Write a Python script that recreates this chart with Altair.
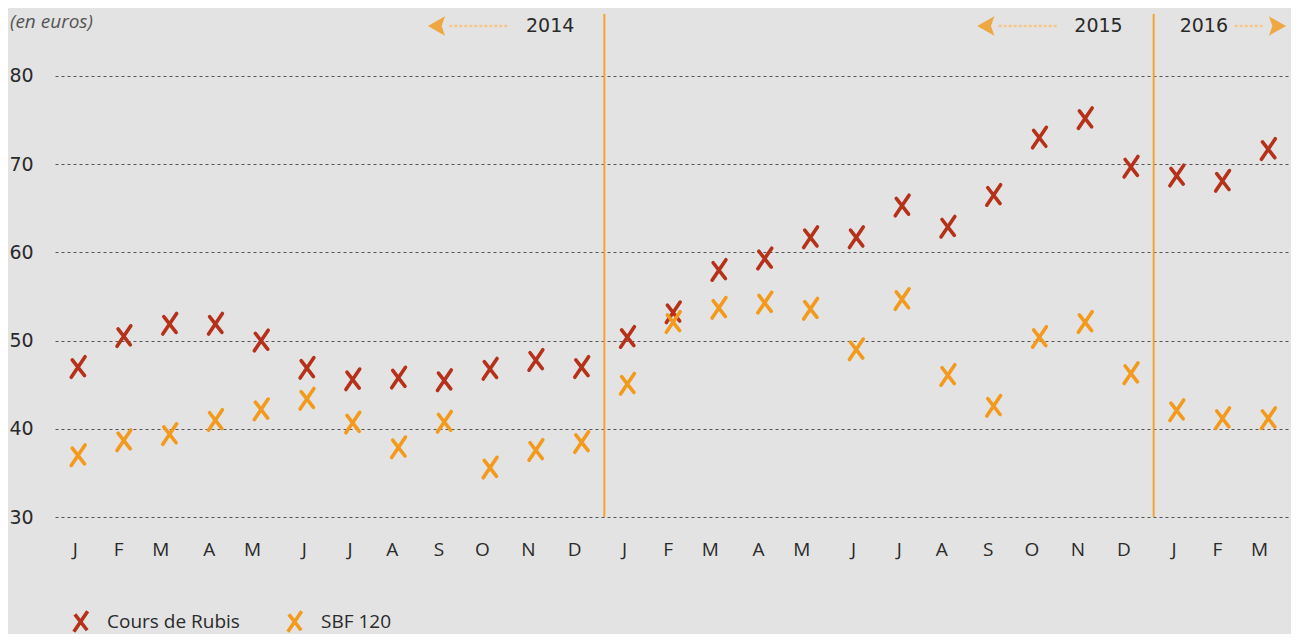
import altair as alt
import pandas as pd

months = ["J", "F", "M", "A", "M", "J", "J", "A", "S", "O", "N", "D",
          "J", "F", "M", "A", "M", "J", "J", "A", "S", "O", "N", "D",
          "J", "F", "M"]
rubis = [47.0, 50.5, 51.9, 51.9, 50.0, 46.9, 45.6, 45.8, 45.5, 46.8, 47.8, 47.0,
         50.4, 53.2, 58.0, 59.3, 61.7, 61.7, 65.3, 62.9, 66.5, 73.0, 75.2, 69.7,
         68.7, 68.1, 71.7]
sbf = [37.0, 38.7, 39.4, 41.0, 42.2, 43.4, 40.7, 37.9, 40.8, 35.6, 37.6, 38.5,
       45.1, 52.1, 53.7, 54.3, 53.6, 49.0, 54.7, 46.1, 42.6, 50.4, 52.1, 46.3,
       42.1, 41.2, 41.2]
series_names = ["Cours de Rubis", "SBF 120"]
series_colors = ["#b5311a", "#f39a1c"]
y_ticks = [30, 40, 50, 60, 70, 80]
year_breaks = [12, 24]
years = ["2014", "2015", "2016"]

W, H = 1236, 503
STEP = W / len(months)
FONT = "Open Sans"
NUMFONT = "DejaVu Sans"
XPATH = "M0.7,-1L-0.65,1M-0.55,-0.7L0.65,0.85"
ARROW_L = "M-1,0L0.5,-0.85L0.2,0L0.5,0.85Z"
ARROW_R = "M1,0L-0.5,-0.85L-0.2,0L-0.5,0.85Z"

rows = []
for i in range(len(months)):
    rows.append({"idx": i, "series": series_names[0], "value": rubis[i]})
    rows.append({"idx": i, "series": series_names[1], "value": sbf[i]})
df = pd.DataFrame(rows)

label_expr = "split('" + ",".join(months) + "', ',')[datum.value]"

x_enc = alt.X("idx:O", title=None,
              scale=alt.Scale(type="band", paddingInner=0, paddingOuter=0),
              axis=alt.Axis(labelExpr=label_expr, labelAngle=0, ticks=False, domain=False,
                            labelPadding=32, labelFontSize=19, labelColor="#2a2a2a",
                            labelFont=FONT, grid=False))
y_enc = alt.Y("value:Q", title=None,
              scale=alt.Scale(domain=[30, 87], nice=False, zero=False),
              axis=alt.Axis(values=y_ticks, ticks=False, domain=False, labelAlign="left",
                            labelPadding=46, labelFontSize=19, labelColor="#2a2a2a",
                            labelFont=NUMFONT, grid=True, gridDash=[3, 3], gridColor="#555555",
                            gridWidth=1, labelBaseline="middle"))

points = alt.Chart(df).mark_point(shape=XPATH, size=420, filled=False, strokeWidth=3.6,
                                  strokeCap="round", opacity=1).encode(
    x=x_enc,
    y=y_enc,
    color=alt.Color("series:N",
                    scale=alt.Scale(domain=series_names, range=series_colors),
                    legend=alt.Legend(title=None, orient="none", legendX=13, legendY=595,
                                      direction="horizontal", symbolType=XPATH,
                                      symbolSize=420, symbolStrokeWidth=3.6,
                                      symbolFillColor="transparent",
                                      labelFontSize=19, labelFont=FONT, labelColor="#2a2a2a",
                                      labelOffset=14, columnPadding=40, symbolOffset=0)),
)

sep_df = pd.DataFrame({"idx": year_breaks})
seps = alt.Chart(sep_df).mark_rule(color="#f4a232", strokeWidth=2).encode(
    x=alt.X("idx:O", bandPosition=0),
    y=alt.value(0),
    y2=alt.value(H),
)

layers = [seps, points]

# year labels
s1 = year_breaks[0] * STEP
s2 = year_breaks[1] * STEP
text_style = dict(fontSize=19, font=NUMFONT, color="#2a2a2a", baseline="middle")
ylab = 12
for label, xpos, align in [(years[0], s1 - 30, "right"), (years[1], s2 - 31, "right"),
                           (years[2], s2 + 26, "left")]:
    layers.append(alt.Chart(pd.DataFrame({"t": [label]})).mark_text(align=align, **text_style).encode(
        text="t:N", x=alt.value(xpos), y=alt.value(ylab)))

# arrows
arrow_color = "#f0a030"
for tail0, tail1, head_x, shape in [(s1 - 155, s1 - 95, s1 - 165, ARROW_L),
                                    (s2 - 155, s2 - 95, s2 - 165, ARROW_L),
                                    (s2 + 81, s2 + 110, s2 + 121, ARROW_R)]:
    layers.append(alt.Chart(pd.DataFrame({"a": [0]})).mark_rule(
        color="#f6c58a", strokeWidth=2.5, strokeDash=[3, 2]).encode(
        x=alt.value(tail0), x2=alt.value(tail1), y=alt.value(ylab)))
    layers.append(alt.Chart(pd.DataFrame({"a": [0]})).mark_point(
        shape=shape, size=520, filled=True, color=arrow_color, opacity=0.9).encode(
        x=alt.value(head_x), y=alt.value(ylab)))

# unit note
layers.append(alt.Chart(pd.DataFrame({"t": ["(en euros)"]})).mark_text(
    align="left", baseline="middle", fontSize=19, font=FONT, fontStyle="italic",
    color="#555555").encode(text="t:N", x=alt.value(-45), y=alt.value(8)))

chart = alt.layer(*layers).properties(
    width=W, height=H,
    autosize=alt.AutoSizeParams(type="none"),
    padding={"left": 47, "top": 6, "right": 0, "bottom": 117},
).configure(background="#e3e3e3").configure_view(stroke=None)

chart.save("out.html", embed_options={"renderer": "svg", "actions": False})
